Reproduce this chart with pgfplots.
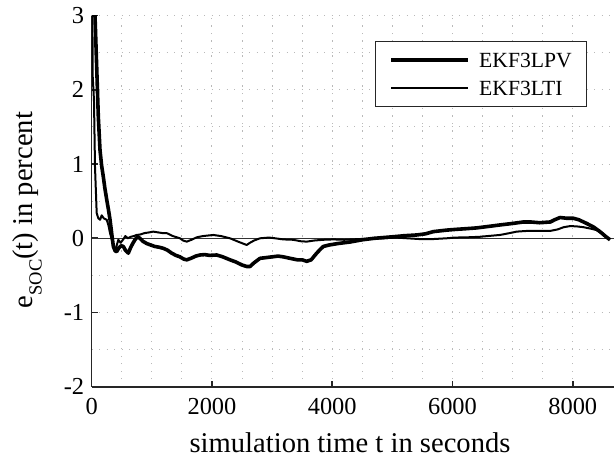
\documentclass[border=0pt]{standalone}
\usepackage{fontspec}
\setmainfont{Liberation Serif}
\usepackage{pgfplots}
\pgfplotsset{compat=1.18}

\definecolor{axcol}{RGB}{38,38,38}
\definecolor{zcol}{RGB}{50,50,50}
\definecolor{gridcol}{RGB}{185,185,185}

\begin{document}
\begin{tikzpicture}
\path[use as bounding box] (-91.7bp,-72.3bp) rectangle (522.3bp,386.7bp);
\begin{axis}[
  at={(0,0)}, anchor=south west,
  scale only axis, width=522.3bp, height=371bp,
  xmin=0, xmax=8686, ymin=-2, ymax=3,
  axis x line*=bottom, axis y line*=left,
  axis line style={-, draw=axcol, line width=1.6bp},
  xtick={0,2000,4000,6000,8000}, xticklabels={0,2000,4000,6000,8000},
  ytick={-2,-1,0,1,2,3}, yticklabels={-2,-1,0,1,2,3},
  minor x tick num=3, minor y tick num=1,
  grid=both,
  major grid style={draw=gridcol, line width=1bp, dash pattern=on 1.2bp off 6.3bp},
  minor grid style={draw=gridcol, line width=1bp, dash pattern=on 1.2bp off 6.3bp},
  tick align=inside, major tick length=6bp, minor tick length=0pt,
  tick style={draw=axcol, line width=1.6bp},
  ticklabel style={font=\fontsize{24.5}{29}\selectfont, text=black},
  xticklabel style={yshift=-8bp},
  yticklabel style={xshift=-4bp},
  xlabel={simulation time t in seconds},
  ylabel={e\raisebox{-8.7bp}{\fontsize{18.6}{20}\selectfont SOC}(t) in percent},
  label style={font=\fontsize{28.7}{34}\selectfont},
  xlabel style={at={(axis description cs:0.4946,-0.1779)}, anchor=base},
  ylabel style={at={(axis description cs:-0.1124,0.476)}, anchor=base},
  legend style={at={(0.9478,0.9326)}, anchor=north east, draw=axcol,
    line width=0.8bp, fill=white, font=\fontsize{21.7}{24}\selectfont,
    inner xsep=14.6bp, inner ysep=11.6bp, row sep=13.6bp,
    nodes={inner sep=0pt, text height=14.4bp, text depth=0pt},
    /tikz/every odd column/.append style={column sep=9bp},
    cells={anchor=west}},
  legend image code/.code={\draw[#1] (0bp,0bp) -- (77bp,0bp);},
  clip=true,
]
\addplot[draw=zcol, line width=1.5bp, forget plot] coordinates {(0,0) (8686,0)};

% EKF3LPV
\addplot[black, line width=3.6bp, line join=round] coordinates {
(0,6.0)(30,3.8)(55,3.0)(83,2.31)(110,1.64)(138,1.19)(165,0.98)(193,0.83)
(220,0.67)(250,0.52)(280,0.38)(305,0.25)(335,0.05)(360,-0.11)(390,-0.17)
(416,-0.18)(450,-0.13)(490,-0.10)(526,-0.11)(560,-0.16)(609,-0.20)(650,-0.12)
(690,-0.06)(720,-0.02)(760,0.02)(803,0.00)(850,-0.04)(914,-0.07)(980,-0.09)
(1050,-0.11)(1120,-0.12)(1191,-0.135)(1260,-0.16)(1330,-0.20)(1400,-0.23)
(1468,-0.25)(1530,-0.28)(1580,-0.29)(1650,-0.27)(1730,-0.24)(1801,-0.225)
(1880,-0.22)(1960,-0.23)(2079,-0.225)(2180,-0.25)(2300,-0.29)(2400,-0.32)
(2500,-0.36)(2578,-0.38)(2633,-0.38)(2700,-0.33)(2799,-0.27)(2900,-0.26)
(3000,-0.25)(3100,-0.24)(3187,-0.25)(3300,-0.27)(3420,-0.29)(3500,-0.29)
(3575,-0.31)(3650,-0.29)(3742,-0.20)(3800,-0.15)(3852,-0.11)(3950,-0.09)
(4100,-0.07)(4296,-0.05)(4500,-0.02)(4700,0.00)(4850,0.01)(5000,0.02)
(5200,0.035)(5405,0.045)(5550,0.06)(5681,0.09)(5900,0.11)(6050,0.12)
(6236,0.13)(6400,0.14)(6600,0.16)(6790,0.18)(7000,0.20)(7178,0.22)
(7300,0.22)(7450,0.21)(7627,0.22)(7700,0.25)(7788,0.28)(7900,0.27)
(8010,0.27)(8100,0.25)(8232,0.20)(8350,0.15)(8453,0.09)(8540,0.03)(8620,-0.02)
};
\addlegendentry{EKF3LPV}

% EKF3LTI
\addplot[black, line width=2bp, line join=round] coordinates {
(0,6.0)(10,3.2)(17,2.18)(38,1.86)(55,0.96)(83,0.34)(110,0.27)(140,0.25)
(166,0.31)(200,0.27)(250,0.25)(280,0.17)(305,0.07)(335,-0.02)(360,-0.11)
(400,-0.14)(443,-0.02)(480,-0.06)(520,-0.02)(560,0.03)(600,0.00)(650,0.02)
(700,0.03)(748,0.045)(800,0.05)(880,0.07)(960,0.08)(1024,0.09)(1100,0.08)
(1180,0.07)(1247,0.07)(1350,0.03)(1468,0.00)(1520,-0.03)(1580,-0.045)
(1660,-0.02)(1746,0.013)(1850,0.03)(2022,0.045)(2150,0.03)(2300,0.00)
(2450,-0.05)(2578,-0.09)(2633,-0.06)(2700,-0.03)(2799,0.00)(2950,0.01)
(3050,0.00)(3187,-0.015)(3350,-0.02)(3480,-0.04)(3575,-0.045)(3700,-0.03)
(3850,-0.02)(4018,-0.015)(4200,-0.02)(4450,-0.01)(4650,-0.005)(4850,0.00)
(5050,0.01)(5250,0.00)(5450,-0.01)(5681,-0.01)(5900,0.00)(6050,0.01)
(6236,0.013)(6450,0.02)(6650,0.035)(6790,0.045)(6950,0.07)(7068,0.09)
(7250,0.10)(7450,0.10)(7627,0.10)(7750,0.12)(7850,0.15)(7960,0.165)
(8070,0.16)(8176,0.15)(8300,0.13)(8398,0.11)(8500,0.06)(8620,-0.015)
};
\addlegendentry{EKF3LTI}
\end{axis}
\end{tikzpicture}
\end{document}
